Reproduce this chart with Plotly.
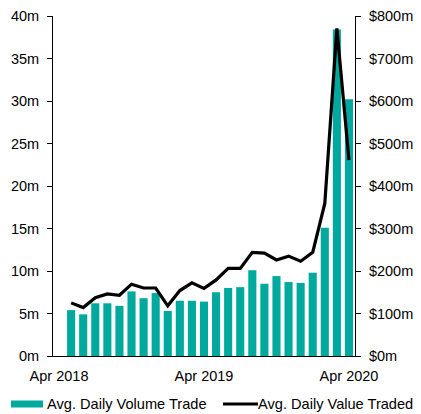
import plotly.graph_objects as go

# months from Apr 2018 (index 0) to Apr 2020 (index 24); data starts May 2018
month_idx = list(range(1, 25))
volume_m = [5.4, 4.9, 6.2, 6.2, 5.9, 7.6, 6.8, 7.4, 5.3, 6.5, 6.5, 6.4,
            7.5, 8.0, 8.1, 10.1, 8.5, 9.4, 8.7, 8.6, 9.8, 15.1, 38.4, 30.2]
value_m = [125, 114, 137, 146, 143, 169, 160, 160, 118, 154, 172, 159,
           179, 206, 206, 244, 242, 226, 235, 223, 244, 359, 771, 461]
tick_pos = [0, 12, 24]
tick_text = ['Apr 2018', 'Apr 2019', 'Apr 2020']
legend_names = ['Avg. Daily Volume Trade', 'Avg. Daily Value Traded']

teal = '#00A99D'
font = dict(family='Liberation Sans, Arial, sans-serif', size=14.5, color='#000000')
legend_font = dict(font, size=14.6)

# the page body adds an 8px margin, so the figure is drawn 8px smaller
OFF = 8
W, H = 421 - OFF, 414 - OFF
L, R, T, B = 45, 66, 8, 58


def px(x):  # window pixel -> paper x
    return (x - OFF - L) / (W - L - R)


def py(y):  # window pixel -> paper y
    return (H - B - (y - OFF)) / (H - T - B)


fig = go.Figure()
fig.add_trace(go.Bar(x=month_idx, y=volume_m, width=0.67,
                     marker=dict(color=teal, line=dict(width=0)),
                     name=legend_names[0]))
fig.add_trace(go.Scatter(x=month_idx, y=value_m, mode='lines', yaxis='y2',
                         line=dict(color='#000000', width=3.2),
                         name=legend_names[1]))

# hand-drawn legend (one row, wide swatches as in the original)
fig.add_shape(type='rect', xref='paper', yref='paper',
              x0=px(11), x1=px(43), y0=py(407.5), y1=py(400.5),
              fillcolor=teal, line=dict(width=0))
fig.add_shape(type='line', xref='paper', yref='paper',
              x0=px(223), x1=px(258), y0=py(404), y1=py(404),
              line=dict(color='#000000', width=3))
fig.add_annotation(xref='paper', yref='paper', x=px(45), y=py(404),
                   xanchor='left', yanchor='middle', showarrow=False,
                   text=legend_names[0], font=legend_font)
fig.add_annotation(xref='paper', yref='paper', x=px(256), y=py(404),
                   xanchor='left', yanchor='middle', showarrow=False,
                   text=legend_names[1], font=legend_font)

fig.update_layout(
    width=W, height=H,
    margin=dict(l=L, r=R, t=T, b=B, autoexpand=False),
    paper_bgcolor='white', plot_bgcolor='white',
    font=font,
    showlegend=False,
    xaxis=dict(range=[-0.5, 24.5], tickvals=tick_pos, ticktext=tick_text,
               showgrid=False, zeroline=False, showline=True,
               linecolor='#000000', linewidth=1, ticks='',
               ticklabelstandoff=7),
    yaxis=dict(range=[0, 40], tickvals=list(range(0, 45, 5)),
               ticktext=[f'{v}m' for v in range(0, 45, 5)],
               showgrid=False, zeroline=False, showline=True,
               linecolor='#000000', linewidth=1,
               ticks='outside', ticklen=5, tickcolor='#000000',
               ticklabelstandoff=5),
    yaxis2=dict(range=[0, 800], overlaying='y', side='right',
                tickvals=list(range(0, 900, 100)),
                ticktext=[f'${v}m' for v in range(0, 900, 100)],
                showgrid=False, zeroline=False, showline=True,
                linecolor='#000000', linewidth=1,
                ticks='outside', ticklen=5, tickcolor='#000000',
                ticklabelstandoff=5),
)

fig.write_html('out.html')
